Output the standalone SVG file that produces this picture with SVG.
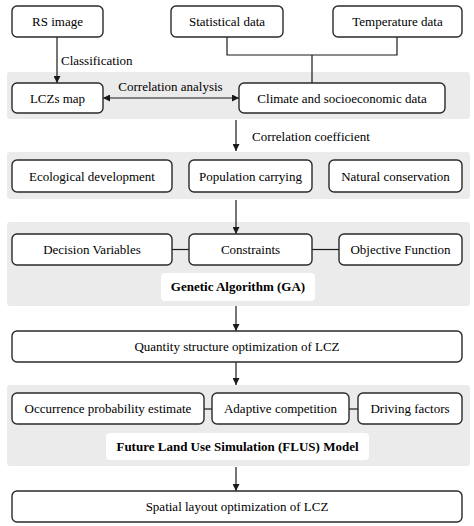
<svg xmlns="http://www.w3.org/2000/svg" width="474" height="526" viewBox="0 0 474 526">
<style>
.band{fill:#ebebeb;stroke:none}
.box{fill:#fff;stroke:#2a2a2a;stroke-width:1.4}
.lbl{fill:#fff;stroke:none}
text{font-family:"Liberation Serif","Times New Roman","DejaVu Serif",serif;font-size:13px;fill:#000}
.c{text-anchor:middle}
.b{font-weight:bold}
.ln{fill:none;stroke:#1a1a1a;stroke-width:1.2}
</style>
<defs>
<marker id="ah" viewBox="0 0 10 10" refX="10" refY="5" markerWidth="7" markerHeight="7" markerUnits="userSpaceOnUse" orient="auto-start-reverse">
<path d="M0,0 L10,5 L0,10 z" fill="#1a1a1a"/>
</marker>
</defs>
<rect width="474" height="526" fill="#fff"/>
<g id="bands">
<rect class="band" x="7" y="72" width="463" height="47" rx="3"/>
<rect class="band" x="7" y="152" width="463" height="47" rx="3"/>
<rect class="band" x="7" y="222" width="463" height="84" rx="3"/>
<rect class="band" x="7" y="385" width="463" height="81" rx="3"/>
</g>
<g id="connectors">
<line class="ln" x1="57" y1="37" x2="57" y2="83" marker-end="url(#ah)"/>
<path class="ln" d="M227,37 V55 H397 V37 M312,55 V83"/>
<line class="ln" x1="103" y1="98" x2="239" y2="98" marker-start="url(#ah)" marker-end="url(#ah)"/>
<line class="ln" x1="236" y1="120" x2="236" y2="151" marker-end="url(#ah)"/>
<line class="ln" x1="236" y1="200" x2="236" y2="234" marker-end="url(#ah)"/>
<line class="ln" x1="236" y1="306" x2="236" y2="331" marker-end="url(#ah)"/>
<line class="ln" x1="236" y1="362" x2="236" y2="385" marker-end="url(#ah)"/>
<line class="ln" x1="236" y1="467" x2="236" y2="491" marker-end="url(#ah)"/>
<line class="ln" x1="172" y1="249.5" x2="189" y2="249.5"/>
<line class="ln" x1="312" y1="249.5" x2="339" y2="249.5"/>
<line class="ln" x1="204" y1="409" x2="212" y2="409"/>
<line class="ln" x1="349" y1="409" x2="358" y2="409"/>
<text x="61" y="65">Classification</text>
<text x="170.5" y="91" class="c">Correlation analysis</text>
<text x="252" y="141">Correlation coefficient</text>
</g>
<g id="rs"><rect class="box" x="12" y="6" width="91" height="31" rx="5"/><text class="c" x="57.5" y="26">RS image</text></g>
<g id="stat"><rect class="box" x="171" y="6" width="112" height="31" rx="5"/><text class="c" x="227" y="26">Statistical data</text></g>
<g id="temp"><rect class="box" x="333" y="6" width="129" height="31" rx="5"/><text class="c" x="397.5" y="26">Temperature data</text></g>
<g id="lcz"><rect class="box" x="12" y="83" width="91" height="30" rx="5"/><text class="c" x="57.5" y="102.5">LCZs map</text></g>
<g id="climate"><rect class="box" x="239" y="83" width="206" height="30" rx="5"/><text class="c" x="342" y="102.5">Climate and socioeconomic data</text></g>
<g id="eco"><rect class="box" x="12" y="160" width="160" height="32" rx="5"/><text class="c" x="92" y="180.5">Ecological development</text></g>
<g id="pop"><rect class="box" x="189" y="160" width="123" height="32" rx="5"/><text class="c" x="250.5" y="180.5">Population carrying</text></g>
<g id="nat"><rect class="box" x="329" y="160" width="133" height="32" rx="5"/><text class="c" x="395.5" y="180.5">Natural conservation</text></g>
<g id="dec"><rect class="box" x="12" y="234" width="160" height="31" rx="5"/><text class="c" x="92" y="254">Decision Variables</text></g>
<g id="con"><rect class="box" x="189" y="234" width="123" height="31" rx="5"/><text class="c" x="250.5" y="254">Constraints</text></g>
<g id="obj"><rect class="box" x="339" y="234" width="123" height="31" rx="5"/><text class="c" x="400.5" y="254">Objective Function</text></g>
<g id="ga"><rect class="lbl" x="161" y="273" width="154" height="28" rx="4"/><text class="c b" x="238" y="291">Genetic Algorithm (GA)</text></g>
<g id="qty"><rect class="box" x="12" y="331" width="450" height="31" rx="5"/><text class="c" x="237" y="351">Quantity structure optimization of LCZ</text></g>
<g id="occ"><rect class="box" x="12" y="393" width="192" height="31" rx="5"/><text class="c" x="108" y="413">Occurrence probability estimate</text></g>
<g id="ada"><rect class="box" x="212" y="393" width="137" height="31" rx="5"/><text class="c" x="280.5" y="413">Adaptive competition</text></g>
<g id="drv"><rect class="box" x="358" y="393" width="104" height="31" rx="5"/><text class="c" x="410" y="413">Driving factors</text></g>
<g id="flus"><rect class="lbl" x="106" y="433" width="263" height="27" rx="4"/><text class="c b" x="237.5" y="451">Future Land Use Simulation (FLUS) Model</text></g>
<g id="spa"><rect class="box" x="12" y="491" width="450" height="31" rx="5"/><text class="c" x="237" y="511">Spatial layout optimization of LCZ</text></g>
</svg>
